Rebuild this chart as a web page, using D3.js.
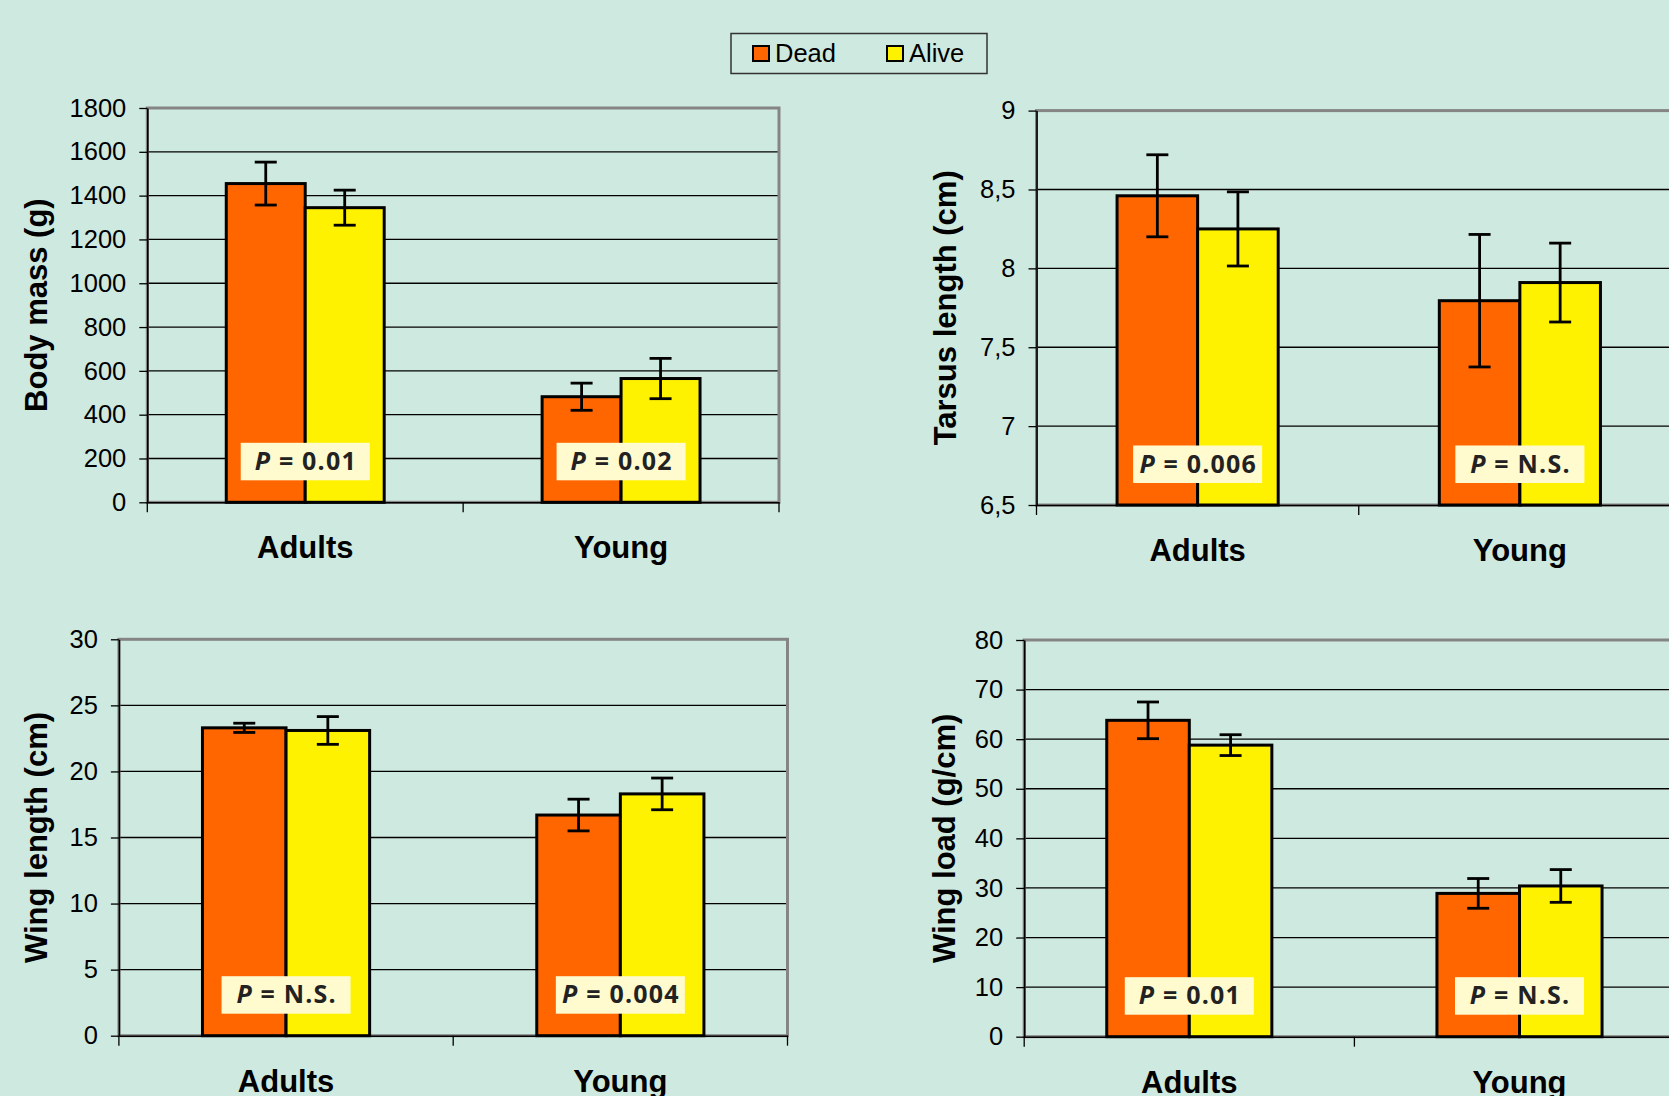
<!DOCTYPE html>
<html>
<head>
<meta charset="utf-8">
<script src="https://cdn.jsdelivr.net/npm/d3@7"></script>
<style>
  html, body { margin: 0; padding: 0; background: #cee9df; }
  svg { display: block; }
  text { font-family: "Liberation Sans", Arial, sans-serif; }
</style>
</head>
<body>
<svg id="chart" width="1669" height="1096"></svg>
<script>
// ---- Data ----
const groups = ["Adults", "Young"];
const series = ["Dead", "Alive"];

const bodyMassDead = [1455, 482];
const bodyMassAlive = [1345, 565];
const bodyMassDeadErr = [98, 62];
const bodyMassAliveErr = [80, 92];
const bodyMassP = ["0.01", "0.02"];
const bodyMassTicks = [0, 200, 400, 600, 800, 1000, 1200, 1400, 1600, 1800];

const tarsusDead = [8.46, 7.795];
const tarsusAlive = [8.25, 7.91];
const tarsusDeadErr = [0.26, 0.42];
const tarsusAliveErr = [0.235, 0.25];
const tarsusP = ["0.006", "N.S."];
const tarsusTicks = [6.5, 7, 7.5, 8, 8.5, 9];

const wingLengthDead = [23.3, 16.7];
const wingLengthAlive = [23.1, 18.3];
const wingLengthDeadErr = [0.35, 1.2];
const wingLengthAliveErr = [1.05, 1.2];
const wingLengthP = ["N.S.", "0.004"];
const wingLengthTicks = [0, 5, 10, 15, 20, 25, 30];

const wingLoadDead = [63.8, 28.9];
const wingLoadAlive = [58.8, 30.4];
const wingLoadDeadErr = [3.7, 3.0];
const wingLoadAliveErr = [2.1, 3.3];
const wingLoadP = ["0.01", "N.S."];
const wingLoadTicks = [0, 10, 20, 30, 40, 50, 60, 70, 80];

// ---- Drawing ----
const svg = d3.select("#chart");
svg.append("rect").attr("width", 1669).attr("height", 1096).attr("fill", "#cee9df");

const color = d3.scaleOrdinal().domain(series).range(["#ff6600", "#fff200"]);
const commaFmt = d => String(d).replace(".", ",");

function drawPanel(cfg) {
  const { left, top, right, bottom, ticks, fmt, dead, alive, deadErr, aliveErr, pVals, title, titleX } = cfg;
  const g = svg.append("g");

  const y = d3.scaleLinear().domain([ticks[0], ticks[ticks.length - 1]]).range([bottom, top]);
  const x = d3.scaleBand().domain(groups).range([left, right]).padding(0);
  const bw = x.bandwidth();

  // gridlines
  g.append("g").selectAll("line").data(ticks).join("line")
    .attr("x1", left).attr("x2", right)
    .attr("y1", d => y(d)).attr("y2", d => y(d))
    .attr("stroke", "#000").attr("stroke-width", 1.3);

  // plot area border
  g.append("rect")
    .attr("x", left).attr("y", top)
    .attr("width", right - left).attr("height", bottom - top)
    .attr("fill", "none").attr("stroke", "#858585").attr("stroke-width", 3);

  const rows = groups.map((grp, i) => ({
    grp,
    values: [
      { s: "Dead", v: dead[i], e: deadErr[i] },
      { s: "Alive", v: alive[i], e: aliveErr[i] }
    ],
    p: pVals[i]
  }));

  const groupG = g.append("g").selectAll("g").data(rows).join("g");

  groupG.each(function (row) {
    const cx = x(row.grp) + bw / 2;
    const xs = d3.scaleBand().domain(series).range([cx - bw / 4, cx + bw / 4]).padding(0);
    const sel = d3.select(this);

    sel.selectAll("rect.bar").data(row.values).join("rect")
      .attr("class", "bar")
      .attr("x", d => xs(d.s))
      .attr("y", d => y(d.v))
      .attr("width", xs.bandwidth())
      .attr("height", d => y(ticks[0]) - y(d.v))
      .attr("fill", d => color(d.s))
      .attr("stroke", "#000").attr("stroke-width", 3);

    const eb = sel.selectAll("g.err").data(row.values).join("g").attr("class", "err")
      .attr("stroke", "#000").attr("stroke-width", 2.8);
    eb.append("line")
      .attr("x1", d => xs(d.s) + xs.bandwidth() / 2).attr("x2", d => xs(d.s) + xs.bandwidth() / 2)
      .attr("y1", d => y(d.v + d.e)).attr("y2", d => y(d.v - d.e));
    eb.append("line")
      .attr("x1", d => xs(d.s) + xs.bandwidth() / 2 - 11).attr("x2", d => xs(d.s) + xs.bandwidth() / 2 + 11)
      .attr("y1", d => y(d.v + d.e)).attr("y2", d => y(d.v + d.e));
    eb.append("line")
      .attr("x1", d => xs(d.s) + xs.bandwidth() / 2 - 11).attr("x2", d => xs(d.s) + xs.bandwidth() / 2 + 11)
      .attr("y1", d => y(d.v - d.e)).attr("y2", d => y(d.v - d.e));

    // significance label
    const bx = cx - 64.5, by = bottom - 59.5;
    sel.append("rect")
      .attr("x", bx).attr("y", by).attr("width", 129).attr("height", 37.5)
      .attr("fill", "#fffbcf");
    const t = sel.append("text")
      .attr("x", cx + 0.6).attr("y", by + 27)
      .attr("text-anchor", "middle")
      .style("font-family", "'Open Sans', sans-serif")
      .style("font-weight", 700)
      .style("font-size", "25px")
      .style("letter-spacing", "1.2px")
      .attr("fill", "#222");
    t.append("tspan").style("font-style", "italic").text("P");
    t.append("tspan").text(" = " + row.p);
  });

  // y axis
  const yAxis = d3.axisLeft(y).tickValues(ticks).tickFormat(fmt).tickSize(8).tickSizeOuter(0).tickPadding(13);
  const ya = g.append("g").attr("transform", `translate(${left},0)`).call(yAxis);
  ya.select(".domain").attr("stroke", "#000").attr("stroke-width", 1.6);
  ya.selectAll(".tick line").attr("stroke", "#000").attr("stroke-width", 1.3);
  ya.selectAll(".tick text")
    .style("font-family", "'Liberation Sans', Arial, sans-serif")
    .style("font-size", "25.5px").attr("fill", "#000");

  // x axis
  const xAxis = d3.axisBottom(x).tickSize(0).tickSizeOuter(0).tickPadding(34);
  const xa = g.append("g").attr("transform", `translate(0,${bottom})`).call(xAxis);
  xa.select(".domain").attr("stroke", "#000").attr("stroke-width", 1.6);
  xa.selectAll(".tick text")
    .style("font-family", "'Liberation Sans', Arial, sans-serif")
    .style("font-weight", "bold").style("font-size", "31px").attr("fill", "#000");

  // category separators
  const seps = groups.map(d => x(d)).concat([right]);
  g.append("g").selectAll("line").data(seps).join("line")
    .attr("x1", d => d).attr("x2", d => d)
    .attr("y1", bottom).attr("y2", bottom + 10)
    .attr("stroke", "#000").attr("stroke-width", 1.3);

  // y title
  g.append("text")
    .attr("transform", `translate(${titleX},${(top + bottom) / 2}) rotate(-90)`)
    .attr("text-anchor", "middle").attr("dy", "0.35em")
    .style("font-weight", "bold").style("font-size", "31px")
    .attr("fill", "#000")
    .text(title);
}

drawPanel({
  left: 147.3, top: 108, right: 779, bottom: 502.3,
  ticks: bodyMassTicks, fmt: d => String(d),
  dead: bodyMassDead, alive: bodyMassAlive, deadErr: bodyMassDeadErr, aliveErr: bodyMassAliveErr,
  pVals: bodyMassP, title: "Body mass (g)", titleX: 36
});

drawPanel({
  left: 1036.5, top: 110.6, right: 1681, bottom: 505,
  ticks: tarsusTicks, fmt: commaFmt,
  dead: tarsusDead, alive: tarsusAlive, deadErr: tarsusDeadErr, aliveErr: tarsusAliveErr,
  pVals: tarsusP, title: "Tarsus length (cm)", titleX: 945
});

drawPanel({
  left: 118.9, top: 639.3, right: 787.5, bottom: 1035.7,
  ticks: wingLengthTicks, fmt: d => String(d),
  dead: wingLengthDead, alive: wingLengthAlive, deadErr: wingLengthDeadErr, aliveErr: wingLengthAliveErr,
  pVals: wingLengthP, title: "Wing length (cm)", titleX: 36
});

drawPanel({
  left: 1024.2, top: 640, right: 1684.6, bottom: 1036.7,
  ticks: wingLoadTicks, fmt: d => String(d),
  dead: wingLoadDead, alive: wingLoadAlive, deadErr: wingLoadDeadErr, aliveErr: wingLoadAliveErr,
  pVals: wingLoadP, title: "Wing load (g/cm)", titleX: 944
});

// ---- Legend ----
const legend = svg.append("g");
legend.append("rect")
  .attr("x", 731).attr("y", 33.5).attr("width", 256).attr("height", 40)
  .attr("fill", "none").attr("stroke", "#333").attr("stroke-width", 1.5);
const legendX = d3.scaleOrdinal().domain(series).range([753, 887]);
const li = legend.selectAll("g.item").data(series).join("g").attr("class", "item")
  .attr("transform", d => `translate(${legendX(d)},46)`);
li.append("rect").attr("width", 16).attr("height", 15)
  .attr("fill", d => color(d)).attr("stroke", "#000").attr("stroke-width", 2);
li.append("text").attr("x", 22).attr("y", 15.5)
  .style("font-size", "25.5px").attr("fill", "#000")
  .text(d => d);
</script>
</body>
</html>
